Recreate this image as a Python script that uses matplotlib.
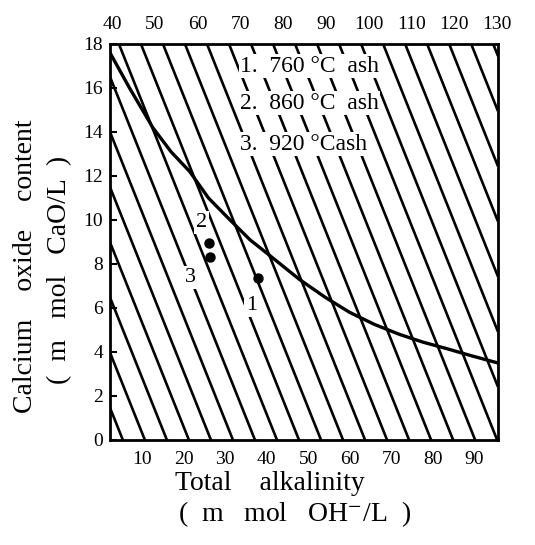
import numpy as np
import matplotlib
matplotlib.use("Agg")
import matplotlib.pyplot as plt

plt.rcParams['font.family'] = ['Liberation Serif', 'DejaVu Serif']
plt.rcParams['mathtext.fontset'] = 'stix'

# ---- data ----
curve_x = [2.3, 7.0, 12.6, 17.0, 21.5, 26.0, 31.2, 36.0, 40.0, 47.9, 54.0, 60.0, 66.0, 72.0, 77.6, 83.4, 88.9, 95.7]
curve_y = [17.6, 16.0, 14.2, 13.1, 12.2, 11.0, 10.0, 9.1, 8.5, 7.3, 6.5, 5.8, 5.25, 4.8, 4.45, 4.15, 3.85, 3.5]

point_x = [38.0, 26.2, 26.3]
point_y = [7.35, 8.94, 8.33]
point_labels = ["1", "2", "3"]
label_x = [36.4, 24.4, 21.7]
label_y = [6.1, 9.9, 7.4]

legend_rows = ["1.  760 °C  ash", "2.  860 °C  ash", "3.  920 °Cash"]

bottom_ticks = [10, 20, 30, 40, 50, 60, 70, 80, 90]
top_ticks = [40, 50, 60, 70, 80, 90, 100, 110, 120, 130]
y_ticks = [0, 2, 4, 6, 8, 10, 12, 14, 16, 18]

# hatch pattern (decorative background)
hatch_slope = -0.473
hatch_x0 = np.arange(5.4, 134.0, 5.3)

W, H = 535, 545
fig = plt.figure(figsize=(W / 100, H / 100), dpi=100)
ax = fig.add_axes([110 / W, 1 - 440 / H, 388 / W, 396 / H])
xmin, xmax = 2.3, 95.7
ax.set_xlim(xmin, xmax)
ax.set_ylim(0, 18)

hx = np.array([xmin, xmax])
for x0 in hatch_x0:
    ax.plot(hx, hatch_slope * (hx - x0), color='black', lw=1.9, zorder=1,
            solid_capstyle='butt')

ax.plot(curve_x, curve_y, color='black', lw=2.4, zorder=3)
ax.plot(point_x, point_y, 'o', color='black', ms=6.5, zorder=4)

for t, x, y in zip(point_labels, label_x, label_y):
    ax.text(x, y, t, fontsize=16, ha='center', va='center', zorder=5,
            bbox=dict(facecolor='white', edgecolor='none', pad=1.5))

leg_y = [17.0, 15.3, 13.45]
for t, y in zip(legend_rows, leg_y):
    ax.text(33.6, y, t, fontsize=17, ha='left', va='center', zorder=5,
            bbox=dict(facecolor='white', edgecolor='none', pad=1.0))

for s in ax.spines.values():
    s.set_linewidth(2.0)

ax.set_yticks(y_ticks)
ax.set_yticklabels([str(v) for v in y_ticks], fontsize=14)
ax.tick_params(axis='y', direction='in', length=5, width=1.5, pad=5)
ax.set_xticks(bottom_ticks)
ax.set_xticklabels([str(v) for v in bottom_ticks], fontsize=14)
ax.tick_params(axis='x', length=0, pad=8)

ax2 = ax.twiny()
ax2.set_xlim(39.5, 130.3)
ax2.set_xticks(top_ticks)
ax2.set_xticklabels([str(v) for v in top_ticks], fontsize=14)
ax2.tick_params(axis='x', length=0, pad=8)
for s in ax2.spines.values():
    s.set_visible(False)

fig.text(26 / W, 1 - 266 / H, "Calcium    oxide    content", rotation=90,
         ha='center', va='center', fontsize=20)
fig.text(60 / W, 1 - 270 / H, "(  m   mol   CaO/L  )", rotation=90,
         ha='center', va='center', fontsize=20)
fig.text(270 / W, 1 - 484 / H, "Total    alkalinity", ha='center', va='center', fontsize=20)
fig.text(295 / W, 1 - 514 / H, r"(  m   mol   OH$^{-}$/L  )", ha='center', va='center', fontsize=20)

fig.savefig("out.png", dpi=100)
